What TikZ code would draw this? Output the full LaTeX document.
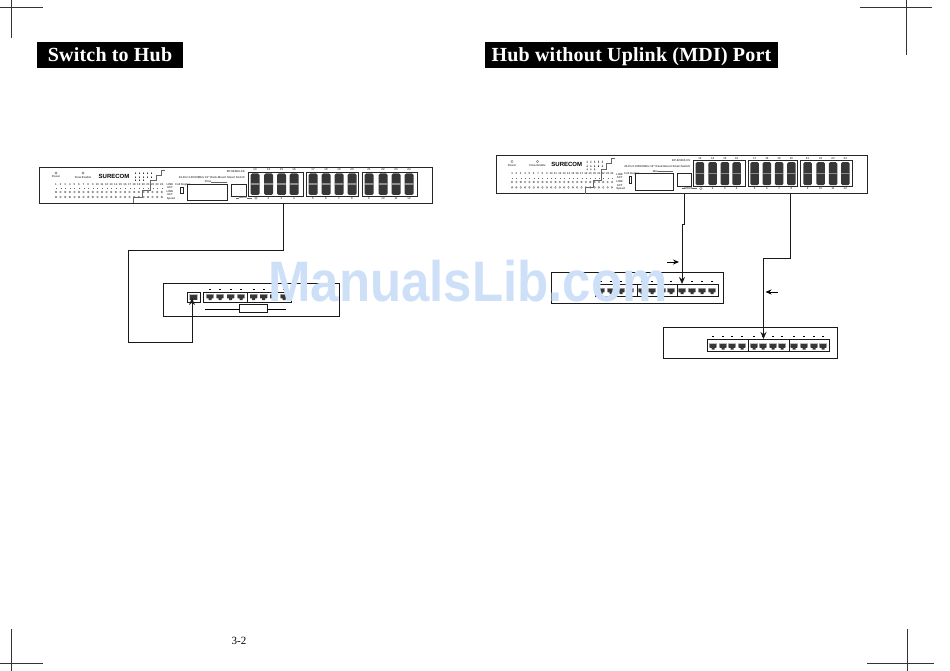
\documentclass[tikz,border=0pt]{standalone}
\usepackage{fontspec}
\setmainfont{Liberation Serif}
\setsansfont{Liberation Sans}
\usetikzlibrary{arrows.meta,positioning,calc}
\definecolor{portdark}{RGB}{55,55,55}
\definecolor{markblue}{RGB}{205,224,248}
\newcommand{\tinyfont}{\sffamily\bfseries\fontsize{2.8}{3}\selectfont}

% switch front, drawn in the measures of the left panel
\newcommand{\switchface}[6]{%
    \begin{scope}[shift={(#2,#3)},xscale=#4,yscale=#5]
        \draw[thin line] (0,0) rectangle (393,36);
        \node[facetext] (#1power) at (17,10) {Power};
        \draw[hair] (17,6) circle (1.2);
        \node[facetext] (#1flow) at (44,10) {Flow Enable};
        \draw[hair] (44,6) circle (1.2);
        \node[font=\sffamily\bfseries\fontsize{6}{6}\selectfont, inner sep=0] (#1logo) at (75,9) {SURECOM};
        % status marks
        \foreach \col in {0,...,4} {
            \foreach \row in {6,10} \fill[portdark] (96+4*\col,\row+1) -- ++(1.1,0) -- ++(-.55,-2) -- cycle;
        }
        \foreach \col in {0,1,2} \fill[portdark] (96+4*\col,14) -- ++(1.1,0) -- ++(-.55,-2) -- cycle;
        \draw[hair] (126,3) -| (122,8) -| (117,13) -| (111,23) -| (103,30) -| (94,36);
        % led rows
        \foreach \n in {1,...,24} {
            \pgfmathsetmacro{\ledx}{17+(\n-1)*4.6}
            \node[facetext] (#1num\n) at (\ledx,17.5) {\n};
            \draw[hair] (\ledx,21.5) -- ++(1,0);
            \draw[hair] (\ledx,25) circle (.9);
            \draw[hair] (\ledx,30) circle (.9);
        }
        \node[facetext] (#1link) at (131,18) {LINK};
        \node[facetext] (#1act) at (131,21) {ACT};
        \node[facetext] (#1linkb) at (131,25) {LINK};
        \node[facetext] (#1actb) at (131,28) {ACT};
        \node[facetext] (#1speed) at (132,31.5) {Speed};
        \node[facetext] (#1duplex) at (144,17.5) {Full Duplex};
        \draw[thin line] (141,20) rectangle (144,26);
        \node[facetext, anchor=east] (#1model) at (206,5) {EP-824DX-CS};
        \node[facetext, anchor=east] (#1name) at (206,10.5) {24-Port 100/10Mb/s 19'' Rack-Mount Smart Switch};
        \draw[thin line] (148,17) rectangle (188,33);
        \draw[thin line] (192,17) rectangle (207,29);
        \node[facetext] (#1top) at (169,15) {#6};
        \draw[hair] (172,15) -- (188,15);
        \node[facetext] (#1mdi) at (204,31) {MDI/X};
        \draw[hair] (197,31) -- (200,31) (208,31) -- (213,31);
        \draw[hair] (217,31) circle (1.3);
        % port blocks
        \foreach \left/\right in {209/264,267/319,323/378}
            \draw[thin line] (\left,5) rectangle (\right,29);
        \foreach \x/\t/\b in {216/13/1,229.5/14/2,242.5/15/3,255/16/4,274/17/5,287/18/6,300/19/7,313/20/8,330/21/9,344/22/10,357/23/11,370/24/12} {
            \fill[portdark,rounded corners=1.5pt] (\x-4.5,6.5) rectangle (\x+4.5,28);
            \fill[black!45] (\x-4.5,16.5) rectangle (\x+4.5,18);
            \node[facetext] (#1top\t) at (\x,3) {\t};
            \ifnum\b=1\else\node[facetext] (#1bot\b) at (\x,31.5) {\b};\fi
        }
    \end{scope}
}

% row of hub ports with their marks above
\newcommand{\hubports}[3]{%
    \foreach \x in {#3} {
        \fill[black!25] (\x-4,#1-2.8) rectangle (\x+4,#1+1);
        \fill[portdark] (\x-3.3,#1-2) -- (\x+3.3,#1-2) -- (\x+3.3,#1+1.8) -- (\x+1.5,#1+1.8) -- (\x+1.5,#1+3.6) -- (\x-1.5,#1+3.6) -- (\x-1.5,#1+1.8) -- (\x-3.3,#1+1.8) -- cycle;
        \draw[thick line] (\x-1,#2) -- (\x+1,#2);
    }
}

\begin{document}
\begin{tikzpicture}[
        x=1pt, y=-1pt,
        thin line/.style={line width=0.9pt, black!85},
        thick line/.style={line width=0.9pt, black},
        hair/.style={line width=0.3pt, black!60},
        facetext/.style={font=\tinyfont, black!70, inner sep=0},
        wire/.style={line width=1pt, black!90, -{Stealth[length=7pt,width=6pt]}},
        arrow/.style={-{Stealth[length=6pt,width=5pt]}, line width=0.9pt},
        banner/.style={fill=black, text=white, minimum height=26pt, inner sep=0, text height=14pt, text depth=1pt, font=\fontsize{20}{20}\selectfont\bfseries\addfontfeature{LetterSpace=1.1}},
        box/.style={draw, line width=1pt, black!90, inner sep=0, minimum height=10pt},
        hub/.style={draw, line width=1pt, black!90, inner sep=0}
    ]
        \useasboundingbox (0,0) rectangle (950,671);

        % crop marks
        \coordinate (cropAw) at (0,7);
        \coordinate (cropAe) at (43,7);
        \coordinate (cropAn) at (11.5,0);
        \coordinate (cropAs) at (11.5,38);
        \coordinate (cropBw) at (860,7);
        \coordinate (cropBe) at (932,7);
        \coordinate (cropBn) at (906,0);
        \coordinate (cropBs) at (906,55);
        \coordinate (cropCw) at (0,663);
        \coordinate (cropCe) at (43,663);
        \coordinate (cropCn) at (11.5,629);
        \coordinate (cropCs) at (11.5,671);
        \coordinate (cropDw) at (867,663);
        \coordinate (cropDe) at (934,663);
        \coordinate (cropDn) at (907,629);
        \coordinate (cropDs) at (907,671);
        \foreach \c in {A,B,C,D} {
            \draw[line width=0.9pt, black!80] (crop\c w) -- (crop\c e);
            \draw[line width=0.9pt, black!80] (crop\c n) -- (crop\c s);
        }

        % titles
        \node[banner, minimum width=146pt] (titleL) at (110,55) {Switch to Hub};
        \node[banner, minimum width=293pt] (titleR) at (631.5,55) {Hub without Uplink (MDI) Port};
        \node[font=\fontsize{11}{11}\selectfont, inner sep=0] (pagenum) at (239,641) {3-2};

        % switches
        \switchface{swL}{39}{167}{1}{1}{Flow}
        \switchface{swR}{496}{155}{0.944}{1.08}{Max}

        % left hub
        \node[hub, minimum width=176pt, minimum height=33pt] (hubL) at (251,299.5) {};
        \node[box, minimum width=13pt] (uplink) at (193.5,297) {};
        \node[box, minimum width=44pt] (hubLa) at (225,297) {};
        \node[box, minimum width=44pt] (hubLb) at (269,297) {};
        \hubports{296.5}{289}{210,220,230.5,241,253.5,263.5,273.5,284}
        \fill[black!25] (189,294) rectangle (198,300);
        \fill[portdark] (189.5,295) rectangle (197,300);
        \node[box, minimum width=28pt, minimum height=8pt] (hubLname) at (253,308) {};
        \coordinate (ruleLw) at (205,309);
        \coordinate (ruleLe) at (286,309);
        \draw[line width=0.8pt] (ruleLw) -- (ruleLw -| hubLname.west);
        \draw[line width=0.8pt] (ruleLe -| hubLname.east) -- (ruleLe);

        % middle hub
        \node[hub, minimum width=172pt, minimum height=31pt] (hubM) at (637,287.5) {};
        \node[box, minimum width=42pt, minimum height=12pt] (hubMa) at (616,290) {};
        \node[box, minimum width=40pt, minimum height=12pt] (hubMb) at (657,290) {};
        \node[box, minimum width=41pt, minimum height=12pt] (hubMc) at (697.5,290) {};
        \hubports{290.5}{281}{601,611,621,630,642,652,662,671,682,692,702,712}

        % lower hub
        \node[hub, minimum width=174pt, minimum height=31pt] (hubB) at (750,342.5) {};
        \node[box, minimum width=41pt, minimum height=12pt] (hubBa) at (727.5,345) {};
        \node[box, minimum width=41pt, minimum height=12pt] (hubBb) at (768.5,345) {};
        \node[box, minimum width=40pt, minimum height=12pt] (hubBc) at (809,345) {};
        \hubports{346}{336}{713,723,732,742,754,763,773,782,794,804,814,823}

        % cables
        \coordinate (swLout) at (283,203);
        \coordinate (bendLa) at (128.5,250);
        \coordinate (bendLb) at (128.5,342);
        \coordinate (uplinkIn) at (192,298);
        \draw[wire] (swLout) |- (bendLa) -- (bendLb) -| (uplinkIn);

        \coordinate (swRa) at (684,194);
        \coordinate (jogA) at (684,224);
        \coordinate (jogB) at (682,224);
        \coordinate (hubMin) at (682,284);
        \draw[wire] (swRa) -- (jogA) -- (jogB) -- (hubMin);

        \coordinate (swRb) at (790,194);
        \coordinate (bendRa) at (763.5,258);
        \coordinate (hubBin) at (763.5,339);
        \draw[wire] (swRb) |- (bendRa) -- (hubBin);

        % pointers
        \coordinate (ptrAs) at (667,262);
        \coordinate (ptrAe) at (679,262);
        \coordinate (ptrBs) at (778,292);
        \coordinate (ptrBe) at (765.5,292);
        \draw[arrow] (ptrAs) -- (ptrAe);
        \draw[arrow] (ptrBs) -- (ptrBe);

        % watermark
        \node[font=\sffamily\bfseries\fontsize{51}{51}\selectfont, text=markblue, inner sep=0, anchor=base, yscale=1.12, transform shape] (mark) at (468,301) {ManualsLib.com};
    \end{tikzpicture}
\end{document}
